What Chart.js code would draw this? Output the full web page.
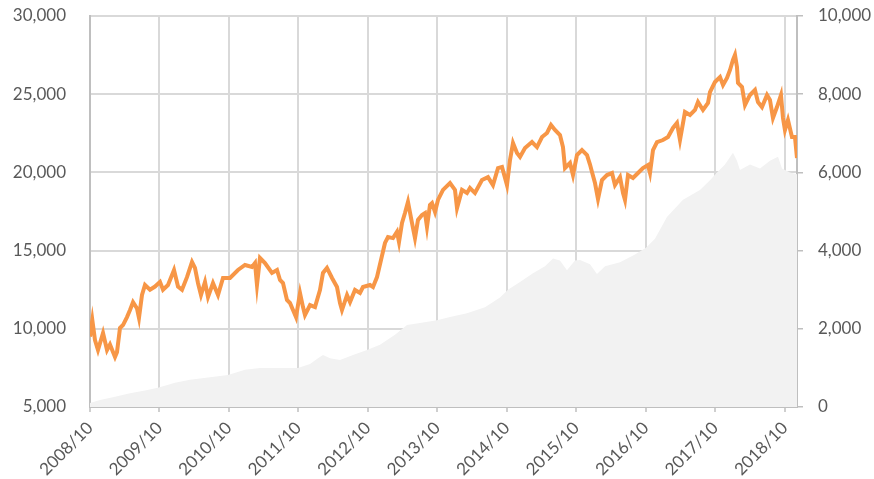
<!DOCTYPE html>
<html>
<head>
<meta charset="utf-8">
<script src="https://cdn.jsdelivr.net/npm/chart.js@4/dist/chart.umd.min.js"></script>
<style>
  html, body { margin: 0; padding: 0; background: #ffffff; }
  #wrap { width: 874px; height: 479px; position: relative; }
</style>
</head>
<body>
<div id="wrap"><canvas id="c"></canvas></div>
<script>
// x positions are months elapsed since 2008/10
const xTickLabels = ['2008/10','2009/10','2010/10','2011/10','2012/10','2013/10','2014/10','2015/10','2016/10','2017/10','2018/10'];

// Orange line (left axis)
const lineMonths = [0,0.4,0.86,1.38,2.25,2.94,3.45,4.32,4.66,5.18,5.70,6.39,6.91,7.43,8.12,8.46,8.98,9.50,10.36,11.23,12.09,12.61,13.47,14.51,15.20,15.89,16.75,17.62,18.13,18.65,19.17,19.86,20.38,21.24,22.11,22.97,24.18,25.56,26.77,27.98,28.50,28.84,29.36,30.22,31.43,32.30,32.82,33.33,34.02,34.54,35.06,35.58,36.27,36.79,37.13,38.00,38.86,39.72,40.24,40.93,41.80,42.66,43.18,43.52,44.39,44.91,45.77,46.63,47.15,48.36,48.88,49.57,50.26,50.95,51.47,52.33,53.02,53.37,53.89,54.40,54.92,55.61,56.13,56.65,57.34,57.86,58.20,58.72,59.07,59.59,60.10,60.97,62.18,63.04,63.39,64.25,65.11,65.63,66.49,67.70,68.74,69.60,70.47,71.16,72.02,72.54,73.06,73.75,74.27,75.13,76.34,77.20,78.07,78.93,79.62,80.31,81.17,81.69,82.04,82.90,83.42,84.11,84.97,85.84,86.36,86.70,87.22,87.74,88.43,89.29,90.16,90.67,91.54,92.06,92.40,92.92,93.78,94.65,95.51,96.37,96.72,97.24,97.93,98.96,99.83,100.69,101.38,101.90,102.76,103.63,104.49,105.01,105.87,106.74,107.08,107.94,108.81,109.33,110.02,110.54,111.05,111.40,111.74,111.92,112.61,113.13,113.99,114.85,115.37,116.06,116.93,117.44,117.96,118.65,119.34,119.69,120.03,120.55,121.24,121.76,122.11];
const lineValues = [9500,10560,9280,8640,9730,8640,9000,8200,8500,10050,10240,10750,11200,11700,11300,10700,12160,12800,12500,12700,13000,12500,12800,13760,12700,12500,13300,14270,13900,12930,12160,13000,12030,12930,12160,13250,13250,13760,14080,13950,14200,12800,14530,14200,13570,13760,13120,12930,11840,11650,11200,10750,12290,11390,10880,11520,11390,12480,13570,13890,13250,12670,11650,11200,12160,11710,12480,12290,12670,12800,12670,13310,14400,15490,15870,15800,16200,15550,16770,17400,18110,16770,15800,16960,17280,17400,16510,17920,18040,17470,18240,18880,19320,18880,17720,18880,18680,19000,18680,19510,19700,19190,20280,20350,19190,20790,21880,21240,20990,21560,21940,21620,22260,22520,23030,22710,22390,21620,20280,20600,19830,21110,21430,21110,20500,20030,19320,18300,19510,19830,19960,19190,19700,18680,18240,19830,19640,19960,20280,20470,19960,21430,21940,22070,22260,22840,23160,22070,23860,23670,23990,24500,23990,24440,25140,25780,26100,25590,26040,26550,27190,27510,26740,25720,25460,24310,24950,25270,24500,24180,24950,24630,23480,24180,24950,23480,22710,23350,22260,22260,20920];

// Grey area (right axis)
const areaMonths = [0,1.73,4.32,6.91,9.50,11.74,14.68,17.27,20.73,23.83,26.77,29.36,32.82,35.92,38.00,39.38,40.24,41.45,43.18,45.77,47.84,50.09,52.68,54.75,56.99,59.93,62.18,65.11,68.22,70.81,72.19,74.27,76.51,78.58,79.97,81.17,82.38,83.77,84.63,86.36,87.56,88.95,91.54,94.13,96.03,97.58,99.65,102.42,105.35,107.08,108.29,109.67,111.05,111.74,112.26,113.99,115.72,117.44,118.83,119.52,120.90,122.11];
const areaValues = [100,180,260,350,420,490,620,700,760,820,950,1000,1000,1000,1100,1250,1330,1250,1200,1350,1460,1590,1850,2100,2150,2220,2300,2400,2550,2800,3000,3200,3420,3600,3800,3750,3500,3750,3760,3650,3400,3600,3700,3900,4070,4300,4860,5300,5550,5800,6000,6200,6500,6300,6060,6200,6100,6300,6400,6100,6000,5950];

const leftTicks = [5000,10000,15000,20000,25000,30000];
const rightTicks = [0,2000,4000,6000,8000,10000];

function tickMonth(label) {
  const [y, m] = label.split('/').map(Number);
  return (y - 2008) * 12 + (m - 10);
}

const FONT = { family: 'Lato, "Open Sans", sans-serif', size: 17 };
const TXT = '#595959';
const GRID = '#d9d9d9';
const AXIS = '#bfbfbf';

new Chart(document.getElementById('c'), {
  type: 'line',
  data: {
    datasets: [
      {
        label: 'line',
        data: lineMonths.map((m, i) => ({ x: m, y: lineValues[i] })),
        yAxisID: 'y',
        borderColor: '#f79646',
        borderWidth: 4,
        pointRadius: 0,
        pointHoverRadius: 0,
        tension: 0,
        fill: false,
        order: 0
      },
      {
        label: 'area',
        data: areaMonths.map((m, i) => ({ x: m, y: areaValues[i] })),
        yAxisID: 'y1',
        borderColor: '#f2f2f2',
        borderWidth: 0,
        backgroundColor: '#f2f2f2',
        pointRadius: 0,
        pointHoverRadius: 0,
        tension: 0,
        fill: 'origin',
        order: 1
      }
    ]
  },
  options: {
    responsive: true,
    maintainAspectRatio: false,
    animation: false,
    layout: { autoPadding: false, padding: { top: 16, left: 0, right: 0, bottom: 0 } },
    plugins: { legend: { display: false }, tooltip: { enabled: false } },
    scales: {
      x: {
        type: 'linear',
        position: 'bottom',
        min: 0,
        max: 122.11,
        afterBuildTicks: s => { s.ticks = xTickLabels.map(l => ({ value: tickMonth(l) })); },
        afterFit: s => { s.height = 72; },
        grid: { color: GRID, lineWidth: 2, tickLength: 5, tickColor: AXIS, tickWidth: 1.5 },
        border: { display: true, color: AXIS, width: 2 },
        ticks: {
          autoSkip: false,
          maxRotation: 45,
          minRotation: 45,
          padding: 6,
          color: TXT,
          font: FONT,
          callback: v => {
            const i = xTickLabels.findIndex(l => tickMonth(l) === v);
            return i >= 0 ? xTickLabels[i] : '';
          }
        }
      },
      y: {
        position: 'left',
        min: 5000,
        max: 30000,
        afterBuildTicks: s => { s.ticks = leftTicks.map(v => ({ value: v })); },
        afterFit: s => { s.width = 90; s.paddingTop = 0; s.paddingBottom = 0; },
        grid: { color: GRID, lineWidth: 2, drawTicks: false },
        border: { display: true, color: AXIS, width: 2 },
        ticks: {
          padding: 24,
          color: TXT,
          font: FONT,
          callback: v => v.toLocaleString('en-US')
        }
      },
      y1: {
        position: 'right',
        min: 0,
        max: 10000,
        afterBuildTicks: s => { s.ticks = rightTicks.map(v => ({ value: v })); },
        afterFit: s => { s.width = 77; s.paddingTop = 0; s.paddingBottom = 0; },
        grid: { drawOnChartArea: false, tickLength: 6, color: AXIS, lineWidth: 1.5 },
        border: { display: true, color: AXIS, width: 2 },
        ticks: {
          padding: 15,
          color: TXT,
          font: FONT,
          callback: v => v.toLocaleString('en-US')
        }
      }
    }
  }
});
</script>
</body>
</html>
